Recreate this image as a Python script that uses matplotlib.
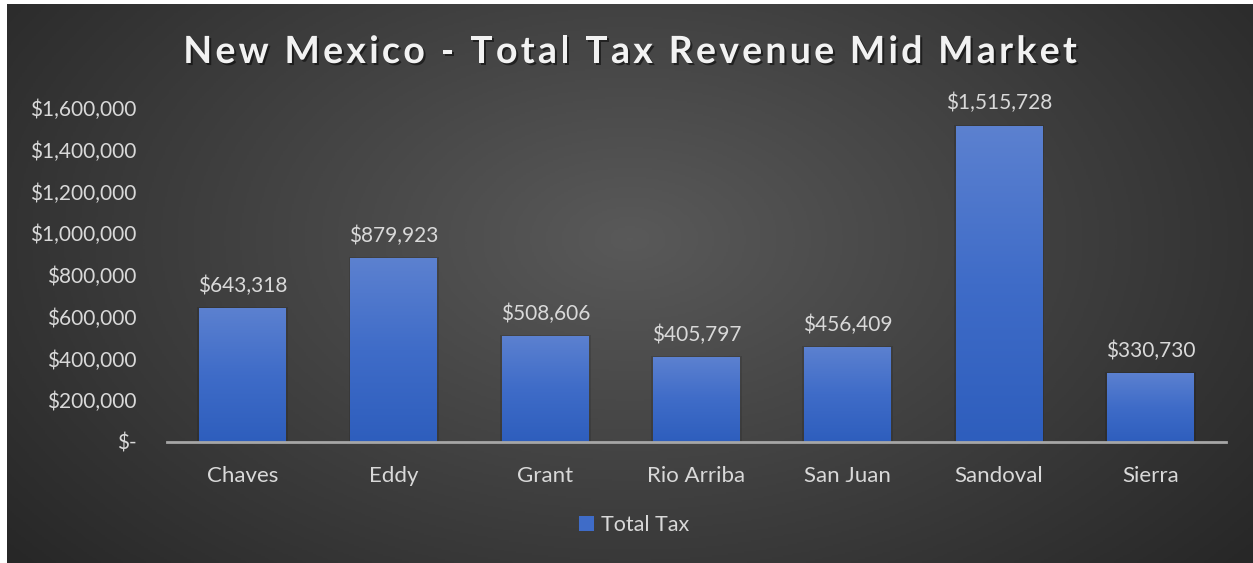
import numpy as np
import matplotlib
matplotlib.use("Agg")
import matplotlib.pyplot as plt
from matplotlib.colors import LinearSegmentedColormap
from matplotlib.patches import Patch, Rectangle
import matplotlib.patheffects as pe

# ---- DATA ----
counties = ["Chaves", "Eddy", "Grant", "Rio Arriba", "San Juan", "Sandoval", "Sierra"]
total_tax = [643318, 879923, 508606, 405797, 456409, 1515728, 330730]
y_ticks = [0, 200000, 400000, 600000, 800000, 1000000, 1200000, 1400000, 1600000]
title = "New Mexico - Total Tax Revenue Mid Market"

FONT = "Lato"
TEXT_COLOR = "#d9d9d9"
W, H = 1253, 563


def money(v):
    return "$-" if v == 0 else f"${v:,.0f}"


def draw_background(fig):
    """Dark radial gradient panel behind the chart."""
    left, top = 7, 4
    bg = fig.add_axes([left / W, 0, 1 - left / W, 1 - top / H], zorder=-10)
    ny, nx = 300, 700
    yy, xx = np.mgrid[0:1:ny * 1j, 0:1:nx * 1j]
    r = np.sqrt(((xx - 0.5) / 0.65) ** 2 + ((yy - 0.42) / 0.9) ** 2)
    r = np.clip(r, 0, 1)
    cmap = LinearSegmentedColormap.from_list("bg", ["#595959", "#404040", "#272727"])
    bg.imshow(r, cmap=cmap, aspect="auto", extent=[0, 1, 0, 1], origin="upper")
    bg.set_axis_off()


def draw_tracked_title(fig, text, cx, cy, tracking, **kw):
    """Draw a title letter by letter with extra spacing between characters."""
    renderer = fig.canvas.get_renderer()
    widths = []
    for ch in text:
        probe = fig.text(0, 0, "x" + ch + "x", **kw)
        w_full = probe.get_window_extent(renderer).width
        probe.remove()
        probe = fig.text(0, 0, "xx", **kw)
        w_xx = probe.get_window_extent(renderer).width
        probe.remove()
        widths.append(w_full - w_xx)
    total = sum(widths) + tracking * (len(text) - 1)
    x = cx - total / 2
    for ch, w in zip(text, widths):
        fig.text(x / W, 1 - cy / H, ch, ha="left", va="center", **kw)
        x += w + tracking


def plot_total_tax():
    fig = plt.figure(figsize=(12.53, 5.63), dpi=100)
    fig.patch.set_facecolor("white")
    draw_background(fig)

    ax = fig.add_axes([167 / W, (H - 442) / H, 1059 / W, 334 / H])
    ax.set_facecolor("none")

    x = np.arange(len(counties))
    width = 0.575
    bar_cmap = LinearSegmentedColormap.from_list("bar", ["#2e5ebd", "#3f6cc8", "#5c81d0"])
    grad = np.linspace(0, 1, 256).reshape(-1, 1)

    for xi, val in zip(x, total_tax):
        # soft shadow behind each bar
        ax.add_patch(Rectangle((xi - width / 2 - 0.012, 0), width + 0.024, val + 4000,
                               facecolor="black", alpha=0.12, lw=0, zorder=1))
        bar = ax.bar(xi, val, width=width, color="#3f6cc8", lw=0, zorder=2)[0]
        im = ax.imshow(grad, cmap=bar_cmap, aspect="auto", origin="lower",
                       extent=[xi - width / 2, xi + width / 2, 0, val], zorder=3)
        im.set_clip_path(bar)
        ax.annotate(money(val), (xi, val), xytext=(0, 12), textcoords="offset pixels",
                    ha="center", va="bottom", fontsize=15, color=TEXT_COLOR,
                    family=FONT, annotation_clip=False)

    ax.set_xlim(-0.5, len(counties) - 0.5)
    ax.set_ylim(0, 1600000)
    ax.set_yticks(y_ticks)
    ax.set_yticklabels([money(v) for v in y_ticks])
    ax.set_xticks(x)
    ax.set_xticklabels(counties)
    ax.tick_params(axis="y", length=0, pad=22, labelsize=15, labelcolor=TEXT_COLOR)
    ax.tick_params(axis="x", length=0, pad=17, labelsize=16, labelcolor=TEXT_COLOR)
    for lbl in ax.get_xticklabels() + ax.get_yticklabels():
        lbl.set_family(FONT)

    for side in ["top", "right", "left"]:
        ax.spines[side].set_visible(False)
    ax.spines["bottom"].set_color("#a6a6a6")
    ax.spines["bottom"].set_linewidth(2)
    ax.spines["bottom"].set_zorder(5)

    draw_tracked_title(fig, title, 630, 52, 3.3, fontsize=27, fontweight="bold",
                       color="#f2f2f2", family=FONT,
                       path_effects=[pe.withSimplePatchShadow(offset=(1.5, -1.5), alpha=0.5,
                                                              shadow_rgbFace="black")])

    handle = Patch(facecolor="#3f6cc8", edgecolor="none")
    fig.legend([handle], ["Total Tax"], loc="center", bbox_to_anchor=(634 / W, 1 - 525 / H),
               frameon=False, handlelength=0.7, handleheight=0.7, handletextpad=0.3,
               prop={"family": FONT, "size": 15.5}, labelcolor=TEXT_COLOR)

    fig.savefig("out.png", dpi=100)


if __name__ == "__main__":
    plot_total_tax()
